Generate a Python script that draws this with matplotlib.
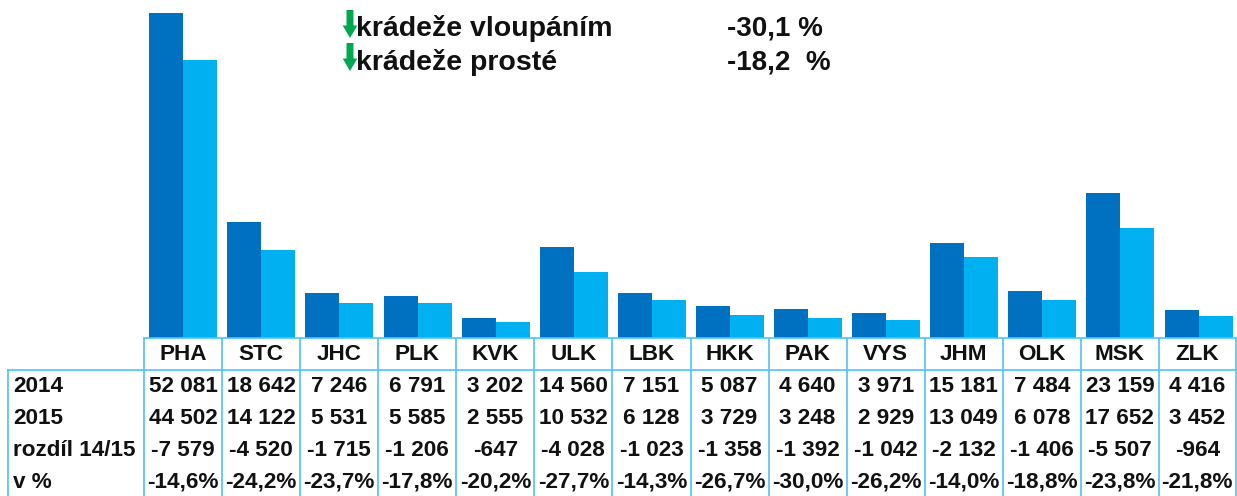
import matplotlib
matplotlib.use("Agg")
import matplotlib.pyplot as plt
import numpy as np

regions = ["PHA","STC","JHC","PLK","KVK","ULK","LBK","HKK","PAK","VYS","JHM","OLK","MSK","ZLK"]
v2014 = [52081,18642,7246,6791,3202,14560,7151,5087,4640,3971,15181,7484,23159,4416]
v2015 = [44502,14122,5531,5585,2555,10532,6128,3729,3248,2929,13049,6078,17652,3452]
diff = ["-7 579","-4 520","-1 715","-1 206","-647","-4 028","-1 023","-1 358","-1 392","-1 042","-2 132","-1 406","-5 507","-964"]
pct = ["-14,6%","-24,2%","-23,7%","-17,8%","-20,2%","-27,7%","-14,3%","-26,7%","-30,0%","-26,2%","-14,0%","-18,8%","-23,8%","-21,8%"]
row_labels = ["2014","2015","rozdíl 14/15","v %"]
notes = [("krádeže vloupáním","-30,1 %"),("krádeže prosté","-18,2  %")]

W,H = 1237,496
plt.rcParams['font.family'] = ['Liberation Sans','DejaVu Sans']
fig = plt.figure(figsize=(W/100,H/100),dpi=100,facecolor='white')

# bars
ax = fig.add_axes([144.2/W,(H-338)/H,(W-144.2+0.6)/W,338/H])
x = np.arange(len(regions))
bw = 0.435
ax.bar(x-bw/2,v2014,bw,color='#0070C0')
ax.bar(x+bw/2,v2015,bw,color='#00B0F0')
ax.set_xlim(-0.5,13.5); ax.set_ylim(0,54160)
ax.axis('off')

# overlay in pixel coordinates
ov = fig.add_axes([0,0,1,1]); ov.set_xlim(0,W); ov.set_ylim(H,0); ov.axis('off'); ov.patch.set_alpha(0)
edges = 144+np.arange(15)*(1237-144)/14
edges[-1] = 1235.5
lc = '#4DC4F2'; lw = 1.2
for i,e in enumerate(edges):
    ov.plot([e,e],[338,H],color=lc,lw=lw,solid_capstyle='butt')
ov.plot([8,8],[370,H],color=lc,lw=lw)
ov.plot([144,edges[-1]],[338,338],color=lc,lw=lw)
ov.plot([8,edges[-1]],[370,370],color=lc,lw=lw)

fs = 16.2
txt = dict(fontweight='bold',color='#111111',va='center',fontsize=fs)
ys = [386,418,450,482]
cent = (edges[:-1]+edges[1:])/2
def fmt(v):
    return f"{v:,}".replace(","," ")
for c,r in zip(cent,regions):
    ov.text(c,355,r,ha='center',**txt)
for y,l in zip(ys,row_labels):
    ov.text(13,y,l,ha='left',**txt)
for i,c in enumerate(cent):
    for y,s in zip(ys,[fmt(v2014[i]),fmt(v2015[i]),diff[i],pct[i]]):
        ov.text(c,y,s,ha='center',**txt)

# heading
for y,(a,b) in zip([29,62],notes):
    ov.annotate('',xy=(350,y+9),xytext=(350,y-19),
                arrowprops=dict(arrowstyle='simple,head_width=1.05,head_length=0.9,tail_width=0.5',color='#00A650',lw=0,shrinkA=0,shrinkB=0))
    ov.text(356,y,a,ha='left',va='center',fontsize=20.5,fontweight='bold',color='#111111')
    ov.text(727,y,b,ha='left',va='center',fontsize=20,fontweight='bold',color='#111111')

fig.savefig('out.png',dpi=100)
